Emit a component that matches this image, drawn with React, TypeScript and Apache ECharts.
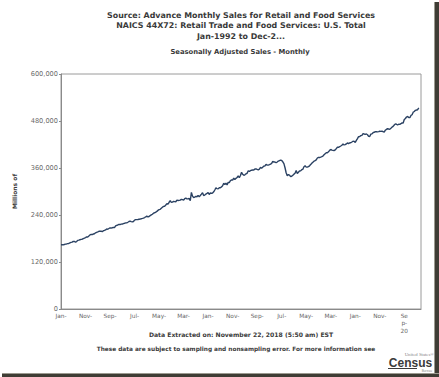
import React, { useEffect, useRef } from "react";
import * as echarts from "echarts";

const titleLines = [
  "Source: Advance Monthly Sales for Retail and Food Services",
  "NAICS 44X72: Retail Trade and Food Services: U.S. Total",
  "Jan-1992 to Dec-2...",
];
const subtitle = "Seasonally Adjusted Sales - Monthly";
const yAxisName = "Millions of";
const footer1 = "Data Extracted on: November 22, 2018 (5:50 am) EST";
const footer2 = "These data are subject to sampling and nonsampling error. For more information see";

const monthNames = ["Jan", "Feb", "Mar", "Apr", "May", "Jun", "Jul", "Aug", "Sep", "Oct", "Nov", "Dec"];
const firstYear = 1992;
const lastYear = 2018;
const yTicks = [0, 120000, 240000, 360000, 480000, 600000];

// Retail and food services sales, seasonally adjusted, millions of dollars (one row per year)
const monthlySales: number[][] = [
  [164083, 164260, 163747, 164759, 165610, 166089, 166977, 167329, 168896, 170200, 170681, 172711], // 1992
  [172407, 171036, 172212, 175218, 176038, 176903, 177668, 178240, 179787, 181049, 182336, 184073], // 1993
  [183698, 186156, 189213, 190220, 190197, 191400, 192233, 194546, 195825, 197051, 198330, 198580], // 1994
  [198720, 197340, 199720, 200630, 201880, 204460, 203650, 205480, 207170, 206710, 207470, 208340], // 1995
  [207960, 212090, 213470, 214520, 216010, 215620, 216630, 216900, 218140, 218820, 219900, 219800], // 1996
  [221500, 223370, 224300, 223050, 222320, 223380, 226960, 228160, 228200, 228480, 229000, 229820], // 1997
  [230500, 231300, 232140, 233600, 235200, 237000, 235000, 236200, 238400, 240200, 242000, 244700], // 1998
  [245700, 247100, 249100, 251800, 253500, 254500, 257300, 259800, 262100, 262400, 265400, 268700], // 1999
  [267800, 272500, 276600, 272300, 272800, 274800, 274300, 273800, 277800, 277100, 277400, 277900], // 2000
  [280100, 279100, 278000, 281500, 282900, 281100, 281100, 282400, 276400, 297800, 288100, 284400], // 2001
  [285600, 287800, 286600, 290100, 286700, 289700, 293200, 297100, 289700, 290800, 293400, 295100], // 2002
  [297300, 292300, 296500, 295100, 296100, 299100, 303800, 309600, 307200, 306700, 309600, 309600], // 2003
  [311700, 314500, 320900, 317700, 321500, 316800, 323300, 322900, 327500, 329500, 328900, 334200], // 2004
  [330700, 333600, 335700, 339800, 335100, 340900, 349100, 343900, 341400, 342700, 345200, 346600], // 2005
  [353000, 351200, 353000, 354400, 354800, 354800, 357600, 357900, 356500, 355300, 357000, 361800], // 2006
  [359100, 362200, 364900, 365200, 369400, 367400, 367400, 368400, 370000, 371700, 376700, 375200], // 2007
  [375300, 373300, 375300, 377800, 378900, 380000, 379300, 375900, 371100, 360600, 347900, 340500], // 2008
  [343100, 341800, 338100, 339000, 341300, 344300, 346500, 353700, 345700, 349200, 352300, 352700], // 2009
  [355700, 356800, 363300, 365600, 362300, 362500, 363600, 365600, 368700, 372200, 374900, 377300], // 2010
  [378800, 380700, 385500, 387100, 386800, 387800, 388900, 390300, 393900, 396500, 398800, 399000], // 2011
  [401300, 405000, 407400, 405800, 405100, 404400, 406000, 409600, 413100, 412800, 414300, 416100], // 2012
  [418000, 421100, 419100, 419700, 421500, 424100, 422200, 424100, 424500, 426400, 428400, 428100], // 2013
  [425200, 430600, 435000, 439900, 440400, 442600, 443300, 447800, 446800, 445900, 446900, 444900], // 2014
  [440900, 440300, 446500, 447300, 450200, 451200, 452900, 452700, 452300, 452800, 453900, 453400], // 2015
  [453900, 452900, 451600, 456500, 458500, 460300, 459500, 459100, 461400, 464400, 466300, 469600], // 2016
  [472700, 471800, 469700, 471800, 471300, 473100, 475200, 475000, 483700, 486400, 490100, 491500], // 2017
  [488700, 488500, 494200, 495900, 502500, 504300, 507300, 508100, 508800, 513500], // 2018 (Jan-Oct)
];

export default function App() {
  const ref = useRef<HTMLDivElement>(null);

  useEffect(() => {
    document.body.style.margin = "0";
    if (!ref.current) return;
    const chart = echarts.init(ref.current, null, { renderer: "svg" });

    const categories: string[] = [];
    for (let y = firstYear; y <= lastYear; y++) {
      for (const m of monthNames) categories.push(`${m}-${y}`);
    }
    const values: number[] = ([] as number[]).concat(...monthlySales);
    const lastLabelIndex = 308;

    const font = "DejaVu Sans, Verdana, sans-serif";
    const titleColor = "#3a3a3a";

    chart.setOption({
      animation: false,
      backgroundColor: "#ffffff",
      title: [
        {
          text: titleLines.join("\n"),
          left: 241,
          top: 10,
          padding: 0,
          textAlign: "center",
          textStyle: { fontFamily: font, fontSize: 7.9, fontWeight: "bold", color: titleColor, lineHeight: 10.5 },
        },
        {
          text: subtitle,
          left: 240,
          top: 48,
          padding: 0,
          textAlign: "center",
          textStyle: { fontFamily: font, fontSize: 6.8, fontWeight: "bold", color: titleColor, lineHeight: 8 },
        },
      ],
      grid: {
        left: 61,
        right: 18,
        top: 74,
        bottom: 68,
        show: true,
        borderColor: "#9a9a9a",
        borderWidth: 1,
        containLabel: false,
      },
      xAxis: {
        type: "category",
        data: categories,
        boundaryGap: false,
        axisLine: { lineStyle: { color: "#8a8a8a" } },
        axisTick: { show: false },
        splitLine: { show: false },
        axisLabel: {
          interval: 21,
          margin: 3,
          fontFamily: font,
          fontSize: 5.8,
          color: "#666666",
          lineHeight: 7.5,
          formatter: (v: string, i: number) => {
            if (i === lastLabelIndex) return v.slice(0, 2) + "\n" + v.slice(2, 4) + "\n" + v.slice(4, 6);
            return v.slice(0, 4);
          },
        },
      },
      yAxis: {
        type: "value",
        min: yTicks[0],
        max: yTicks[yTicks.length - 1],
        interval: yTicks[1] - yTicks[0],
        name: yAxisName,
        nameLocation: "middle",
        nameGap: 44,
        nameTextStyle: { fontFamily: font, fontSize: 6, fontWeight: "bold", color: titleColor },
        axisLine: { show: true, lineStyle: { color: "#8a8a8a" } },
        axisTick: { show: true, length: 2, lineStyle: { color: "#8a8a8a" } },
        splitLine: { show: false },
        axisLabel: {
          margin: 3,
          fontFamily: font,
          fontSize: 6.6,
          color: "#6a6a6a",
          formatter: (v: number) => v.toLocaleString("en-US"),
        },
      },
      series: [
        {
          type: "line",
          data: values,
          showSymbol: false,
          symbol: "none",
          lineStyle: { color: "#2b4263", width: 1.4 },
        },
      ],
      graphic: [
        {
          type: "text",
          x: 241,
          y: 334,
          style: {
            text: footer1,
            fontFamily: font,
            fontSize: 6.1,
            fontWeight: "bold",
            fill: titleColor,
            textAlign: "center",
            textVerticalAlign: "middle",
          },
        },
        {
          type: "text",
          x: 236,
          y: 349,
          style: {
            text: footer2,
            fontFamily: font,
            fontSize: 5.8,
            fontWeight: "bold",
            fill: titleColor,
            textAlign: "center",
            textVerticalAlign: "middle",
          },
        },
        {
          type: "text",
          x: 434,
          y: 354,
          style: {
            text: "United States\u00ae",
            fontFamily: "Liberation Serif, serif",
            fontSize: 4.8,
            fill: "#888888",
            textAlign: "right",
            textVerticalAlign: "middle",
          },
        },
        {
          type: "text",
          x: 410.5,
          y: 362.5,
          style: {
            text: "Census",
            fontFamily: "Liberation Sans, sans-serif",
            fontSize: 12,
            fontWeight: "bold",
            fill: "#3b3b3b",
            textAlign: "center",
            textVerticalAlign: "middle",
          },
        },
        {
          type: "rect",
          shape: { x: 388, y: 368, width: 29, height: 1 },
          style: { fill: "#3b3b3b" },
        },
        {
          type: "text",
          x: 432,
          y: 370.5,
          style: {
            text: "Bureau",
            fontFamily: "Liberation Sans, sans-serif",
            fontSize: 3.2,
            fill: "#888888",
            textAlign: "right",
            textVerticalAlign: "middle",
          },
        },
        {
          type: "rect",
          shape: { x: 434, y: 2, width: 1, height: 375 },
          style: { fill: "#9c9a90" },
        },
        {
          type: "rect",
          shape: { x: 435, y: 2, width: 4, height: 375 },
          style: { fill: "#3f3d35" },
        },
        {
          type: "rect",
          shape: { x: 2, y: 373, width: 437, height: 1 },
          style: { fill: "#9c9a90" },
        },
        {
          type: "rect",
          shape: { x: 2, y: 374, width: 437, height: 3 },
          style: { fill: "#3f3d35" },
        },
      ],
    });

    return () => chart.dispose();
  }, []);

  return (
    <div
      ref={ref}
      style={{ position: "fixed", left: 0, top: 0, width: 439, height: 377 }}
    />
  );
}
